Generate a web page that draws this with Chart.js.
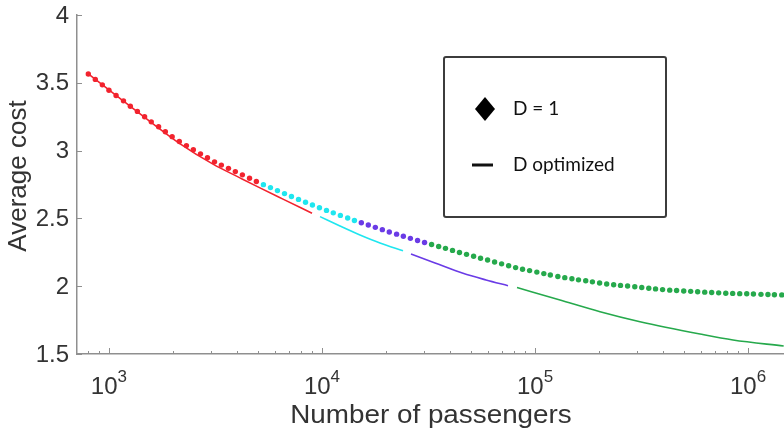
<!DOCTYPE html>
<html>
<head>
<meta charset="utf-8">
<script src="https://cdn.jsdelivr.net/npm/chart.js@4.4.3/dist/chart.umd.min.js"></script>
<style>
  html, body { margin: 0; padding: 0; background: #fff; }
  #wrap { width: 784px; height: 431px; }
</style>
</head>
<body>
<div id="wrap"><canvas id="cost-chart" width="784" height="431"></canvas></div>
<script>
// D = 1 (dots), one array pair per colour segment
const redDotsN = [800, 863, 931, 1000, 1080, 1170, 1260, 1360, 1470, 1580, 1710, 1840, 1980, 2140, 2310, 2490, 2690, 2900, 3130, 3370, 3640, 3920, 4230, 4570, 4920];
const redDotsCost = [3.565, 3.525, 3.485, 3.445, 3.406, 3.367, 3.327, 3.289, 3.250, 3.212, 3.176, 3.139, 3.103, 3.067, 3.037, 3.007, 2.976, 2.947, 2.917, 2.893, 2.869, 2.845, 2.821, 2.796, 2.772];
const cyanDotsN = [5310, 5730, 6180, 6670, 7190, 7760, 8370, 9020, 9730, 10500, 11300, 12200, 13200, 14200];
const cyanDotsCost = [2.749, 2.727, 2.705, 2.683, 2.661, 2.640, 2.619, 2.599, 2.578, 2.559, 2.541, 2.522, 2.503, 2.485];
const purpleDotsN = [15300, 16500, 17800, 19200, 20700, 22400, 24100, 26000, 28100, 30300];
const purpleDotsCost = [2.468, 2.451, 2.434, 2.417, 2.400, 2.384, 2.368, 2.353, 2.337, 2.322];
const greenDotsN = [32700, 35300, 38000, 41000, 44200, 47700, 51500, 55500, 59900, 64600, 69700, 75200, 81100, 87400, 94300,
  102000, 110000, 118000, 128000, 138000, 149000, 160000, 173000, 186000, 201000, 217000, 234000, 252000, 272000, 294000,
  317000, 342000, 368000, 397000, 429000, 462000, 499000, 538000, 580000, 626000, 675000, 728000, 786000, 847000, 914000,
  986000, 1060000, 1150000, 1240000, 1330000, 1440000];
const greenDotsCost = [2.307, 2.293, 2.279, 2.264, 2.249, 2.235, 2.221, 2.206, 2.193, 2.178, 2.165, 2.151, 2.137, 2.125, 2.115,
  2.104, 2.093, 2.083, 2.072, 2.063, 2.055, 2.047, 2.040, 2.032, 2.024, 2.016, 2.011, 2.006, 2.001, 1.996,
  1.990, 1.985, 1.980, 1.975, 1.971, 1.968, 1.965, 1.962, 1.959, 1.956, 1.954, 1.951, 1.948, 1.947, 1.945,
  1.944, 1.942, 1.940, 1.939, 1.937, 1.936];

// D optimized (solid lines)
const redLineN = [800, 1130, 1560, 2150, 3080, 4120, 4950, 6560, 8980];
const redLineCost = [3.565, 3.383, 3.214, 3.052, 2.900, 2.799, 2.736, 2.642, 2.538];
const cyanLineN = [9790, 12150, 15080, 18720, 24010];
const cyanLineCost = [2.513, 2.444, 2.378, 2.319, 2.262];
const purpleLineN = [26170, 33930, 45920, 58880, 74680];
const purpleLineCost = [2.237, 2.171, 2.095, 2.046, 2.004];
const greenLineN = [82320, 131000, 202000, 311000, 595000, 850000, 1470000];
const greenLineCost = [1.990, 1.898, 1.812, 1.738, 1.647, 1.603, 1.559];

// axes
const yTicks = [1.5, 2, 2.5, 3, 3.5, 4];
const xMajorTicks = [1e3, 1e4, 1e5, 1e6];
const xTickExponents = ["3", "4", "5", "6"];
const xTitle = "Number of passengers";
const yTitle = "Average cost";
const legendLabels = ["D = 1", "D optimized"];

const RED = "#f2232e", CYAN = "#1fe6ef", PURPLE = "#6a3be6", GREEN = "#26a94c";
const AXIS = "#8f8f8f", TEXT = "#333";

const pts = (ns, cs) => ns.map((n, i) => ({ x: n, y: cs[i] }));

function dots(ns, cs, color) {
  return {
    data: pts(ns, cs), showLine: false,
    pointStyle: "circle", pointRadius: 2.7, pointBorderWidth: 0,
    pointBackgroundColor: color, borderColor: color,
  };
}
function curve(ns, cs, color) {
  return {
    data: pts(ns, cs), showLine: true, borderColor: color, borderWidth: 1.6,
    pointRadius: 0, cubicInterpolationMode: "monotone", fill: false,
  };
}

function stretchText(ctx, str, x, y, sx) {
  ctx.save();
  ctx.translate(x, y);
  ctx.scale(sx, 1);
  ctx.fillText(str, 0, 0);
  ctx.restore();
}

// tick marks drawn inward, axis labels, titles and the boxed legend
const decor = {
  id: "decor",
  afterDraw(chart) {
    const { ctx, chartArea: a, scales: { x, y } } = chart;
    ctx.save();
    ctx.strokeStyle = AXIS;
    ctx.lineWidth = 1;
    ctx.beginPath();
    yTicks.forEach(v => {
      const py = Math.round(y.getPixelForValue(v)) + 0.5;
      ctx.moveTo(a.left, py); ctx.lineTo(a.left + 5, py);
    });
    for (let e = 2; e <= 6; e++) {
      for (let m = 1; m < 10; m++) {
        const v = m * Math.pow(10, e);
        if (v < x.min || v > x.max) continue;
        const px = Math.round(x.getPixelForValue(v)) + 0.5;
        ctx.moveTo(px, a.bottom); ctx.lineTo(px, a.bottom - (m === 1 ? 6 : 3));
      }
    }
    ctx.stroke();

    ctx.fillStyle = TEXT;
    ctx.font = "24px 'Liberation Sans'";
    ctx.textAlign = "right";
    ctx.textBaseline = "middle";
    yTicks.forEach(v => ctx.fillText(String(v), 69, y.getPixelForValue(v) + 1));

    ctx.textBaseline = "alphabetic";
    xMajorTicks.forEach((v, i) => {
      const px = x.getPixelForValue(v);
      ctx.font = "24px 'Liberation Sans'";
      const w1 = ctx.measureText("10").width;
      ctx.font = "17px 'Liberation Sans'";
      const w2 = ctx.measureText(xTickExponents[i]).width;
      const left = px - (w1 + w2) / 2;
      ctx.textAlign = "left";
      ctx.font = "24px 'Liberation Sans'";
      ctx.fillText("10", left, 394);
      ctx.font = "17px 'Liberation Sans'";
      ctx.fillText(xTickExponents[i], left + w1, 382);
    });

    ctx.font = "26px 'Liberation Sans'";
    ctx.textAlign = "center";
    stretchText(ctx, xTitle, 431, 423, 1.07);

    ctx.save();
    ctx.translate(26, 176);
    ctx.rotate(-Math.PI / 2);
    ctx.font = "25px 'Liberation Sans'";
    stretchText(ctx, yTitle, 0, 0, 1.04);
    ctx.restore();

    // legend box
    ctx.strokeStyle = "#3c3c3c";
    ctx.lineWidth = 2;
    ctx.beginPath();
    ctx.roundRect(444, 57, 222, 160, 2);
    ctx.stroke();
    ctx.fillStyle = "#000";
    ctx.beginPath();
    ctx.moveTo(485, 97); ctx.lineTo(495, 109); ctx.lineTo(485, 121); ctx.lineTo(475, 109);
    ctx.closePath();
    ctx.fill();
    ctx.strokeStyle = "#111";
    ctx.lineWidth = 3;
    ctx.beginPath();
    ctx.moveTo(472, 165); ctx.lineTo(493, 165);
    ctx.stroke();
    ctx.fillStyle = "#111";
    ctx.font = "19px Lato";
    ctx.textAlign = "left";
    ctx.textBaseline = "middle";
    ctx.fillText(legendLabels[0], 513, 109);
    ctx.fillText(legendLabels[1], 513, 165);
    ctx.restore();
  },
};

new Chart(document.getElementById("cost-chart"), {
  type: "scatter",
  data: {
    datasets: [
      curve(redLineN, redLineCost, RED),
      curve(cyanLineN, cyanLineCost, CYAN),
      curve(purpleLineN, purpleLineCost, PURPLE),
      curve(greenLineN, greenLineCost, GREEN),
      dots(redDotsN, redDotsCost, RED),
      dots(cyanDotsN, cyanDotsCost, CYAN),
      dots(purpleDotsN, purpleDotsCost, PURPLE),
      dots(greenDotsN, greenDotsCost, GREEN),
    ],
  },
  options: {
    responsive: false,
    animation: false,
    layout: { autoPadding: false, padding: { left: 77, right: 0, top: 15, bottom: 77 } },
    scales: {
      x: {
        type: "logarithmic", min: 708, max: 1475000,
        ticks: { display: false },
        grid: { display: false, drawTicks: false },
        border: { display: true, color: AXIS, width: 1.5 },
      },
      y: {
        type: "linear", min: 1.5, max: 4,
        ticks: { display: false },
        grid: { display: false, drawTicks: false },
        border: { display: true, color: AXIS, width: 1.5 },
      },
    },
    plugins: { legend: { display: false }, tooltip: { enabled: false } },
  },
  plugins: [decor],
});
</script>
</body>
</html>
